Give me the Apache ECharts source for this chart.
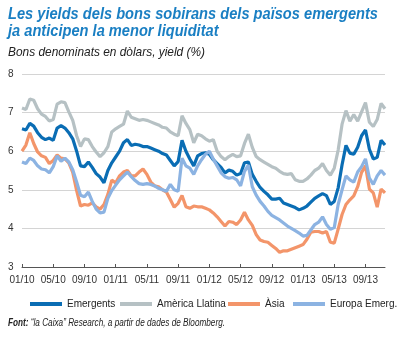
<!DOCTYPE html>
<html>
<head>
<meta charset="utf-8">
<script src="https://cdn.jsdelivr.net/npm/echarts@6/dist/echarts.min.js"></script>
<style>
html,body{margin:0;padding:0;background:#fff;}
#chart{width:402px;height:338px;}
</style>
</head>
<body>
<div id="chart"></div>
<script>
// Semi-monthly observations, Jan 2010 - Nov 2013
var months = ['01','02','03','04','05','06','07','08','09','10','11','12'];
var categories = [];
for (var y = 10; y <= 13; y++) {
  for (var m = 0; m < 12; m++) {
    categories.push(months[m] + '/' + y);
    categories.push(months[m] + '/' + y);
  }
}
categories = categories.slice(0, 94);

var emergents = [6.58,6.55,6.72,6.65,6.48,6.36,6.30,6.34,6.28,6.60,6.66,6.60,6.48,6.32,6.00,5.62,5.60,5.72,5.58,5.42,5.33,5.18,5.50,5.70,5.85,6.00,6.22,6.30,6.15,6.18,6.16,6.12,6.12,6.08,6.04,6.00,5.94,5.90,5.76,5.62,5.73,6.28,6.00,5.80,5.62,5.88,5.94,5.96,5.92,5.78,5.68,5.58,5.44,5.51,5.48,5.38,5.42,5.70,5.72,5.40,5.22,5.06,4.96,4.87,4.76,4.76,4.78,4.66,4.62,4.58,4.54,4.48,4.52,4.58,4.68,4.78,4.84,4.90,4.85,4.62,4.70,5.05,5.65,6.15,5.95,5.92,6.10,6.40,6.55,6.05,5.80,5.84,6.28,6.16];
var americaLlatina = [7.12,7.08,7.35,7.32,7.10,6.96,6.90,6.78,6.82,7.22,7.28,7.26,7.02,6.80,6.40,6.12,6.32,6.30,6.12,5.98,5.86,5.96,6.12,6.50,6.58,6.64,6.70,7.04,6.88,6.84,6.80,6.82,6.80,6.76,6.72,6.68,6.62,6.60,6.50,6.44,6.40,6.92,6.72,6.56,6.22,6.44,6.40,6.32,6.26,6.30,6.00,5.86,5.78,5.86,5.92,5.86,5.88,6.20,6.44,6.10,5.86,5.78,5.72,5.66,5.60,5.56,5.48,5.42,5.40,5.42,5.26,5.22,5.22,5.28,5.38,5.50,5.56,5.68,5.50,5.38,5.56,6.03,6.70,7.05,6.78,6.95,6.78,7.02,7.26,6.75,6.64,6.82,7.24,7.10];
var asia = [6.00,6.16,6.48,6.20,5.98,5.88,5.84,5.68,5.76,5.90,5.82,5.80,5.70,5.45,4.98,4.58,4.62,4.60,4.66,4.56,4.50,4.62,4.88,5.25,5.18,5.36,5.46,5.50,5.36,5.36,5.46,5.54,5.40,5.20,5.10,5.08,5.00,4.94,4.75,4.55,4.65,4.85,4.56,4.52,4.58,4.56,4.56,4.52,4.48,4.40,4.30,4.18,4.06,4.18,4.16,4.10,4.22,4.42,4.22,4.08,3.84,3.70,3.66,3.64,3.56,3.48,3.38,3.42,3.42,3.46,3.50,3.54,3.58,3.72,3.90,3.92,3.92,3.88,3.92,3.64,3.62,3.98,4.36,4.62,4.74,4.84,5.08,5.45,5.62,5.02,4.92,4.55,5.02,4.92];
var europaEmerg = [5.72,5.68,5.82,5.76,5.62,5.54,5.52,5.44,5.60,5.88,5.74,5.82,5.72,5.52,5.20,4.86,4.82,4.94,4.70,4.50,4.40,4.42,4.78,4.98,5.12,5.26,5.36,5.46,5.34,5.24,5.16,5.14,5.16,5.14,5.10,5.04,5.00,4.96,5.14,5.00,4.96,5.82,5.62,5.56,5.40,5.62,5.78,5.92,6.00,5.80,5.62,5.44,5.34,5.30,5.32,5.26,5.10,5.48,5.64,5.08,4.86,4.70,4.58,4.44,4.34,4.28,4.22,4.14,4.06,4.00,3.94,3.88,3.80,3.82,3.96,4.10,4.16,4.30,4.10,3.98,4.02,4.62,5.00,5.36,5.26,5.20,5.46,5.60,5.80,5.30,5.14,5.36,5.50,5.38];

var seriesNames = ['Emergents', 'Amèrica Llatina', 'Àsia', 'Europa Emerg.'];
var seriesData = [emergents, americaLlatina, asia, europaEmerg];
var colors = ['#0a6db4', '#b6c1c4', '#f3956a', '#8cb3e2'];
var legendLefts = [25, 115, 223, 288];

var titleLines = ['Les yields dels bons sobirans dels països emergents', 'ja anticipen la menor liquiditat'];
var subtitleText = 'Bons denominats en dòlars, yield (%)';
var sourceBold = 'Font:';
var sourceText = ' “la Caixa” Research, a partir de dades de Bloomberg.';

var FAM = '"Liberation Sans", Arial, sans-serif';
var ctx = document.createElement('canvas').getContext('2d');
function measure(font, txt) { ctx.font = font; return ctx.measureText(txt).width; }

var titleFont = 'italic bold 17px ' + FAM;
var titleScale = 370 / measure(titleFont, titleLines[0]);
var subFont = 'italic 13px ' + FAM;
var subScale = 197 / measure(subFont, subtitleText);
var srcBFont = 'italic bold 10px ' + FAM;
var srcFont = 'italic 10px ' + FAM;
var srcScale = 217 / (measure(srcBFont, sourceBold) + measure(srcFont, sourceText));
var srcBoldW = measure(srcBFont, sourceBold) * srcScale;

var chart = echarts.init(document.getElementById('chart'), null, {renderer: 'canvas'});
chart.setOption({
  animation: false,
  backgroundColor: '#ffffff',
  color: colors,
  graphic: [
    {type: 'text', x: 8, y: 23, scaleX: titleScale, style: {text: titleLines[0], font: titleFont, fill: '#1a7fc3', textAlign: 'left', textVerticalAlign: 'bottom'}},
    {type: 'text', x: 8, y: 40, scaleX: titleScale, style: {text: titleLines[1], font: titleFont, fill: '#1a7fc3', textAlign: 'left', textVerticalAlign: 'bottom'}},
    {type: 'text', x: 8, y: 59, scaleX: subScale, style: {text: subtitleText, font: subFont, fill: '#222', textAlign: 'left', textVerticalAlign: 'bottom'}},
    {type: 'text', x: 8, y: 328, scaleX: srcScale, style: {text: sourceBold, font: srcBFont, fill: '#222', textAlign: 'left', textVerticalAlign: 'bottom'}},
    {type: 'text', x: 8 + srcBoldW, y: 328, scaleX: srcScale, style: {text: sourceText, font: srcFont, fill: '#222', textAlign: 'left', textVerticalAlign: 'bottom'}}
  ],
  legend: seriesNames.map(function (n, i) {
    return {
      data: [{name: n, icon: 'rect'}],
      left: legendLefts[i], top: 294,
      itemWidth: 32, itemHeight: 4, itemGap: 0,
      textStyle: {fontFamily: FAM, fontSize: 10, color: '#222'}
    };
  }),
  grid: {left: 22, right: 17, top: 74, bottom: 71, containLabel: false},
  xAxis: {
    type: 'category',
    data: categories,
    boundaryGap: false,
    axisLine: {show: true, lineStyle: {color: '#555', width: 1}},
    axisTick: {show: true, inside: true, length: 3, interval: 7, lineStyle: {color: '#555'}},
    axisLabel: {interval: 7, margin: 8, fontFamily: FAM, fontSize: 10, color: '#333'},
    splitLine: {show: false}
  },
  yAxis: {
    type: 'value',
    min: 3, max: 8, interval: 1,
    axisLine: {show: false},
    axisTick: {show: false},
    axisLabel: {margin: 14, fontFamily: FAM, fontSize: 10, color: '#333', align: 'left'},
    splitLine: {show: true, lineStyle: {color: '#d4d4d4', width: 1}}
  },
  series: seriesNames.map(function (name, i) {
    return {
      name: name,
      type: 'line',
      data: seriesData[i],
      showSymbol: false,
      symbol: 'none',
      lineStyle: {width: 3.2, color: colors[i]},
      itemStyle: {color: colors[i]},
      z: [1, 2, 3, 4][i]
    };
  })
});
</script>
</body>
</html>
